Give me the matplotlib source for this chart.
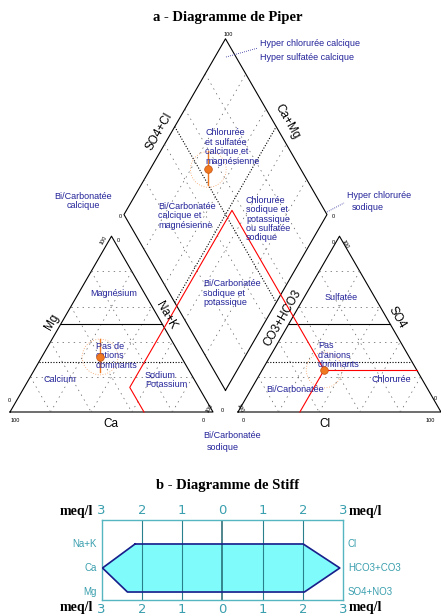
import numpy as np
import matplotlib.pyplot as plt

# sample composition, % of meq/l
cation_names = ['Ca', 'Mg', 'Na+K']
cation_pct = [40.0, 31.3, 28.7]
anion_names = ['HCO3', 'SO4', 'Cl']
anion_pct = [45.6, 23.9, 30.5]
# second set of projection lines (red)
ref_cation_pct = [34.0, 14.0, 52.0]

# stiff values, meq/l
stiff_left = ['Na+K', 'Ca', 'Mg']
stiff_left_val = [2.17, 2.98, 2.36]
stiff_right = ['Cl', 'HCO3+CO3', 'SO4+NO3']
stiff_right_val = [2.01, 2.92, 2.04]

S = np.sqrt(3) / 2
G = 0.123          # gap between the two triangles
O = 1 + G          # x offset of the anion triangle
U = 203.0          # pixels per triangle side
BLUE = '#23239a'
ORANGE = '#f07820'


def px(x, y):
    return (x - 10) / U, (412 - y) / U


def cat_xy(ca, mg, nak):
    t = ca + mg + nak
    return nak / t + 0.5 * mg / t, S * mg / t


def an_xy(hco3, so4, cl):
    t = hco3 + so4 + cl
    return O + cl / t + 0.5 * so4 / t, S * so4 / t


def dia_xy(nak, cl_so4):
    bx, by = 1 + G / 2, G * S
    p, q = 1 - nak, cl_so4
    return bx - 0.5 * p + 0.5 * q, by + S * (p + q)


def line(ax, a, b, **kw):
    ax.plot([a[0], b[0]], [a[1], b[1]], **kw)


fig = plt.figure(figsize=(4.41, 6.16), dpi=100)
ax = fig.add_axes([0, 0, 1, 1])
ax.set_xlim(-10 / U, 431 / U)
ax.set_ylim((412 - 616) / U, 412 / U)
ax.axis('off')

grid = dict(color='0.35', lw=0.5, ls=(0, (2, 6)))
edge = dict(color='black', lw=0.8)

# triangles outline and grid
for f in (cat_xy, an_xy):
    A, B, C = f(1, 0, 0), f(0, 0, 1), f(0, 1, 0)
    ax.plot([A[0], B[0], C[0], A[0]], [A[1], B[1], C[1], A[1]], **edge)
    for v in np.arange(0.2, 1.0, 0.2):
        line(ax, f(1 - v, v, 0), f(0, v, 1 - v), **grid)
        line(ax, f(v, 1 - v, 0), f(v, 0, 1 - v), **grid)
        line(ax, f(1 - v, 0, v), f(0, 1 - v, v), **grid)
    line(ax, f(0.5, 0.5, 0), f(0, 0.5, 0.5), color='black', lw=0.8)
    line(ax, f(0.713, 0.287, 0), f(0, 0.287, 0.713), color='black', lw=0.8, ls=(0, (1, 1.5)))

# diamond
d = [dia_xy(1, 0), dia_xy(0, 0), dia_xy(0, 1), dia_xy(1, 1), dia_xy(1, 0)]
ax.plot([p[0] for p in d], [p[1] for p in d], **edge)
for v in np.arange(0.2, 1.0, 0.2):
    line(ax, dia_xy(v, 0), dia_xy(v, 1), **grid)
    line(ax, dia_xy(0, v), dia_xy(1, v), **grid)
dot = dict(color='black', lw=0.8, ls=(0, (1, 1.5)))
line(ax, dia_xy(0.5, 0), dia_xy(0.5, 1), **dot)
line(ax, dia_xy(0, 0.5), dia_xy(1, 0.5), **dot)

# red projection lines
cx, cy = cat_xy(*ref_cation_pct)
ca_r = ref_cation_pct[0] / sum(ref_cation_pct)
nak_r = ref_cation_pct[2] / sum(ref_cation_pct)
ax_, ay_ = an_xy(*anion_pct)
h = anion_pct[0] / sum(anion_pct)
so4 = anion_pct[1] / sum(anion_pct)
cl = anion_pct[2] / sum(anion_pct)
top = dia_xy(nak_r, 1 - h)
red = dict(color='red', lw=0.8)
ax.plot([cat_xy(ca_r, 0, 1 - ca_r)[0], cx, top[0], ax_], [0, cy, top[1], ay_], **red)
line(ax, (ax_, ay_), an_xy(0, so4, 1 - so4), **red)
line(ax, (ax_, ay_), an_xy(1 - cl, 0, cl), **red)

# sample points
pts = [cat_xy(*cation_pct), an_xy(*anion_pct),
       dia_xy(cation_pct[2] / sum(cation_pct), 1 - h)]
for i, (x, y) in enumerate(pts):
    ax.add_patch(plt.Circle((x, y), 0.088, fill=False, ec=ORANGE, lw=0.6, ls=(0, (1, 2)), alpha=0.7))
    if i != 1:
        ax.plot([x, x], [y - 0.075, y + 0.09], color=ORANGE, lw=1)
    ax.plot(x, y, 'o', color=ORANGE, ms=5.5, mec='#c05010', mew=0.5, zorder=5)

# axis names
lab = dict(fontsize=8.5, family='Liberation Sans', ha='center', va='center')
for t, x, y, r in [('SO4+Cl', 159, 132, 60), ('Ca+Mg', 287, 122, -60),
                   ('Mg', 52, 322, 60), ('Na+K', 166, 315, -60),
                   ('CO3+HCO3', 283, 318, 60), ('SO4', 397, 318, -60),
                   ('Ca', 111, 424, 0), ('Cl', 325, 424, 0)]:
    ax.text(*px(x, y), t, rotation=r, **lab)

tiny = dict(fontsize=4, family='Liberation Sans', ha='center', va='center')
for t, x, y, r in [('100', 15, 420, 0), ('0', 203, 421, 0), ('0', 243, 421, 0),
                   ('100', 430, 421, 0), ('100', 228, 35, 0), ('0', 120, 216, 0),
                   ('0', 333, 217, 0), ('100', 104, 240, 60), ('0', 118, 240, 0),
                   ('100', 210, 408, 60), ('100', 240, 408, -60), ('0', 9, 400, 0),
                   ('100', 345, 244, -60), ('0', 333, 242, 0), ('0', 435, 398, 0),
                   ('0', 222, 410, 0)]:
    ax.text(*px(x, y), t, rotation=r, **tiny)

blue = dict(fontsize=6.5, family='Liberation Sans', color=BLUE, va='center', linespacing=1.05)
texts = [
    ('Hyper chlorurée calcique', 260, 44, 'left'),
    ('Hyper sulfatée calcique', 260, 57, 'left'),
    ('Chlorurée\net sulfatée\ncalcique et\nmagnésienne', 205, 147, 'left'),
    ('Bi/Carbonatée\ncalcique', 83, 201, 'center'),
    ('Bi/Carbonatée\ncalcique et\nmagnésienne', 158, 216, 'left'),
    ('Chlorurée\nsodique et\npotassique\nou sulfatée\nsodique', 246, 219, 'left'),
    ('Hyper chlorurée', 347, 196, 'left'),
    ('sodique', 352, 208, 'left'),
    ('Bi/Carbonatée\nsodique et\npotassique', 203, 293, 'left'),
    ('Magnésium', 114, 294, 'center'),
    ('Pas de\ncations\ndominants', 96, 356, 'left'),
    ('Calcium', 60, 380, 'center'),
    ('Sodium\nPotassium', 145, 380, 'left'),
    ('Sulfatée', 341, 297, 'center'),
    ('Pas\nd\'anions\ndominants', 318, 355, 'left'),
    ('Bi/Carbonatée', 295, 389, 'center'),
    ('Chlorurée', 391, 380, 'center'),
    ('Bi/Carbonatée', 203, 435, 'left'),
    ('sodique', 207, 448, 'left'),
]
for t, x, y, ha in texts:
    ax.text(*px(x, y), t, ha=ha, **blue)
line(ax, px(226, 57), px(258, 48), color=BLUE, lw=0.6, ls=(0, (1, 1.5)))
line(ax, px(327, 212), px(344, 203), color=BLUE, lw=0.6, ls=(0, (1, 1.5)))

title = dict(fontsize=10.5, family='Liberation Serif', weight='bold', ha='center', va='center')
fig.text(228 / 441, 1 - 17 / 616, 'a - Diagramme de Piper', **title)
fig.text(228 / 441, 1 - 486 / 616, 'b - Diagramme de Stiff', **title)

# stiff diagram
TEAL = '#3a9fae'
sx = fig.add_axes([101.7 / 441, 16 / 616, 241.3 / 441, 80 / 616])
sx.set_xlim(-3, 3)
sx.set_ylim(80 / 24, 0)
rows = [1, 2, 3]
poly_x = [-v for v in stiff_left_val] + stiff_right_val[::-1]
poly_y = rows + rows[::-1]
sx.fill(poly_x, poly_y, color='#80fbfb', zorder=1)
sx.plot(poly_x + poly_x[:1], poly_y + poly_y[:1], color='#1c1c8a', lw=1.2, zorder=3)
for v in [-2, -1, 1, 2]:
    sx.axvline(v, color='#2a7f8c', lw=0.8, zorder=2)
sx.axvline(0, color='#1f6470', lw=1.1, zorder=2)
for s in sx.spines.values():
    s.set_color('#55b5c0')
    s.set_linewidth(1)
ticks = [-3, -2, -1, 0, 1, 2, 3]
sx.set_xticks(ticks)
sx.set_xticklabels([str(abs(t)) for t in ticks])
sx.tick_params(axis='x', top=True, labeltop=True, length=0, pad=2, labelsize=9.5, colors=TEAL)
sx.set_yticks([])
for n, r in zip(stiff_left, rows):
    sx.text(-3.12, r, n, ha='right', va='center', fontsize=7, color=TEAL, family='Liberation Sans')
for n, r in zip(stiff_right, rows):
    sx.text(3.12, r, n, ha='left', va='center', fontsize=7, color=TEAL, family='Liberation Sans')
mq = dict(fontsize=10, family='Liberation Serif', weight='bold', va='center')
for y in (512, 608):
    fig.text(93 / 441, 1 - y / 616, 'meq/l', ha='right', **mq)
    fig.text(349 / 441, 1 - y / 616, 'meq/l', ha='left', **mq)

fig.savefig('out.png', dpi=100)
